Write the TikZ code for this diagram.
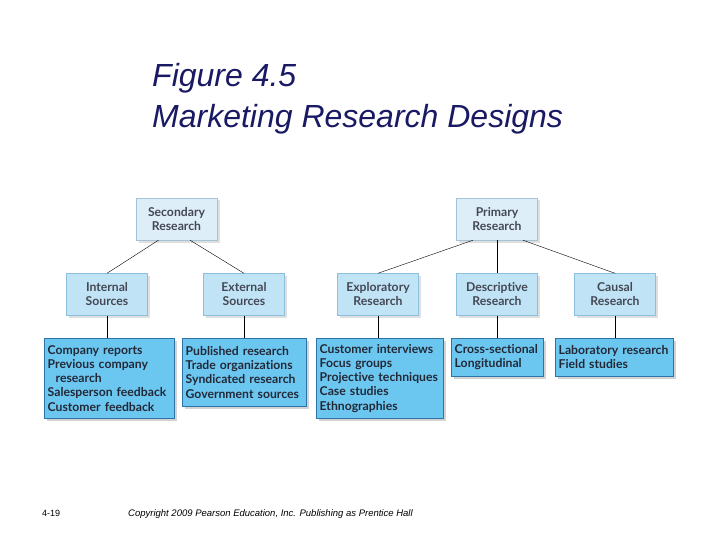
\documentclass[tikz,border=0pt]{standalone}
\usepackage{fontspec}
\usepackage{tikz}
\usetikzlibrary{shadows}
\setmainfont{Liberation Sans}
\newfontfamily\boxfont{Lato}[Ligatures={NoCommon,NoDiscretionary,NoRare}]
\definecolor{titleblue}{RGB}{25,25,100}
\definecolor{paleblue}{RGB}{222,238,249}
\definecolor{paleedge}{RGB}{165,195,215}
\definecolor{midblue}{RGB}{192,227,246}
\definecolor{midedge}{RGB}{140,190,222}
\definecolor{deepblue}{RGB}{108,199,240}
\definecolor{deepedge}{RGB}{45,115,165}
\definecolor{boxtext}{RGB}{35,40,55}

\begin{document}
\begin{tikzpicture}[x=1pt,y=-1pt,
		topbox/.style={rectangle,draw=paleedge,fill=paleblue,minimum width=81pt,
		minimum height=42pt,align=center,text=boxtext!85,inner sep=2pt,
		font=\boxfont\bfseries\fontsize{12.2}{14}\selectfont,
		drop shadow={opacity=0.25,shadow xshift=2.5pt,shadow yshift=-2.5pt}},
		midbox/.style={topbox,draw=midedge,fill=midblue},
		listbox/.style={rectangle,draw=deepedge,fill=deepblue,anchor=north west,
		align=left,inner xsep=3.5pt,inner ysep=3pt,text=boxtext,
		font=\boxfont\bfseries\fontsize{12.2}{14.3}\selectfont,
		drop shadow={opacity=0.35,shadow xshift=3pt,shadow yshift=-3pt}},
		titletext/.style={anchor=base west,inner sep=0pt,text=titleblue,
		font=\itshape\fontsize{32}{32}\selectfont}
		]
		\useasboundingbox (0,0) rectangle (720,540);

		\node[titletext](T0) at (152,87){Figure 4.5};
		\node[titletext](T1) at (152,128){Marketing Research Designs};

		\node[topbox](S0) at (176.5,219){Secondary\\Research};
		\node[topbox](S1) at (497,219){Primary\\Research};

		\node[midbox](S2) at (107,294.5){Internal\\Sources};
		\draw ([xshift=-18pt]S0.south) -- (S2.north);
		\node[midbox](S3) at (244,294.5){External\\Sources};
		\draw ([xshift=13.5pt]S0.south) -- (S3.north);
		\node[midbox](S4) at (378,294.5){Exploratory\\Research};
		\draw ([xshift=-24pt]S1.south) -- (S4.north);
		\node[midbox](S5) at (497,294.5){Descriptive\\Research};
		\draw (S1.south) -- (S5.north);
		\node[midbox](S6) at (615,294.5){Causal\\Research};
		\draw ([xshift=26pt]S1.south) -- (S6.north);

		\node[listbox,text width=123pt,minimum height=80pt](S7) at (44,338)
		{Company reports\\Previous company\\\hspace*{8pt}research\\Salesperson feedback\\Customer feedback};
		\draw (S2.south) -- (S2.south |- S7.north);
		\node[listbox,text width=117pt,minimum height=68pt](S8) at (182,338)
		{Published research\\Trade organizations\\Syndicated research\\Government sources};
		\draw (S3.south) -- (S3.south |- S8.north);
		\node[listbox,text width=120pt,minimum height=80pt](S9) at (316,338)
		{Customer interviews\\Focus groups\\Projective techniques\\Case studies\\Ethnographies};
		\draw (S4.south) -- (S4.south |- S9.north);
		\node[listbox,text width=85pt,minimum height=38pt](S10) at (451,338)
		{Cross-sectional\\Longitudinal};
		\draw (S5.south) -- (S5.south |- S10.north);
		\node[listbox,text width=111pt,minimum height=38pt](S11) at (555,338)
		{Laboratory research\\Field studies};
		\draw (S6.south) -- (S6.south |- S11.north);

		\node[anchor=base west,inner sep=0pt,font=\fontsize{9}{10}\selectfont](F0) at (42,516){4-19};
		\node[anchor=base west,inner sep=0pt,font=\itshape\fontsize{9.5}{10}\selectfont](F1) at (128,516)
		{Copyright 2009 Pearson Education, Inc. Publishing as Prentice Hall};
	\end{tikzpicture}
\end{document}
